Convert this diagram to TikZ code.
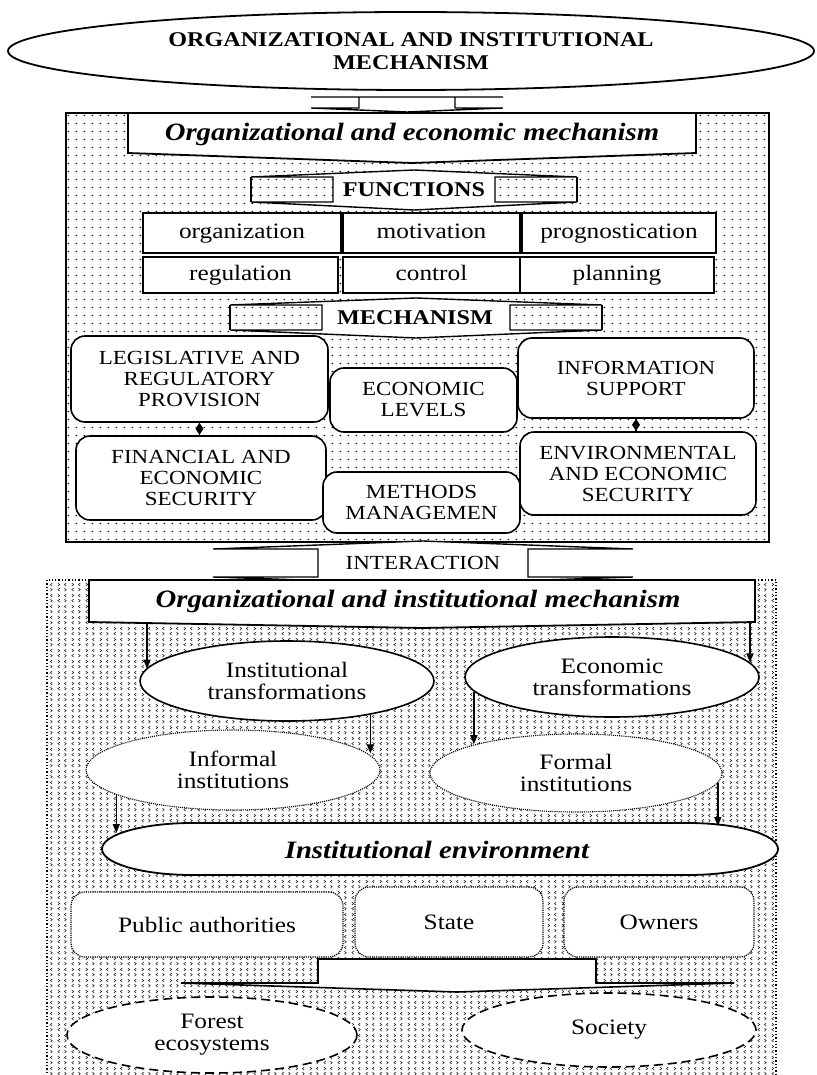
\documentclass[tikz,border=0pt]{standalone}
\usepackage{fontspec}
\setmainfont{Liberation Serif}[FakeStretch=1.15]
\usepackage{tikz}
\usetikzlibrary{arrows.meta,patterns,shapes.geometric}

% Text sizes
\newcommand{\txtsize}{\fontsize{20}{21}\selectfont}
\newcommand{\lcsize}{\fontsize{22}{22}\selectfont}
\newcommand{\hdsize}{\bfseries\fontsize{21}{23}\selectfont}
\newcommand{\ttlsize}{\bfseries\itshape\fontsize{25}{27}\selectfont}

% Fill of the upper frame
\pgfdeclarepatternformonly{smalldots}{\pgfqpoint{0pt}{0pt}}{\pgfqpoint{8.2pt}{7.5pt}}{\pgfqpoint{8.2pt}{7.5pt}}{%
  \pgfpathrectangle{\pgfqpoint{3pt}{3pt}}{\pgfqpoint{1.4pt}{1.4pt}}%
  \pgfusepath{fill}}

% Fill of the lower frame
\pgfdeclarepatternformonly{chevrons}{\pgfqpoint{0pt}{0pt}}{\pgfqpoint{14pt}{11pt}}{\pgfqpoint{14pt}{11pt}}{%
  \pgfsetlinewidth{0.5pt}%
  \pgfpathmoveto{\pgfqpoint{4pt}{1pt}}\pgfpathlineto{\pgfqpoint{2pt}{2.6pt}}\pgfpathlineto{\pgfqpoint{4pt}{4.2pt}}%
  \pgfpathmoveto{\pgfqpoint{9pt}{1pt}}\pgfpathlineto{\pgfqpoint{11pt}{2.6pt}}\pgfpathlineto{\pgfqpoint{9pt}{4.2pt}}%
  \pgfpathmoveto{\pgfqpoint{2pt}{6.5pt}}\pgfpathlineto{\pgfqpoint{4pt}{8.1pt}}\pgfpathlineto{\pgfqpoint{2pt}{9.7pt}}%
  \pgfpathmoveto{\pgfqpoint{11pt}{6.5pt}}\pgfpathlineto{\pgfqpoint{9pt}{8.1pt}}\pgfpathlineto{\pgfqpoint{11pt}{9.7pt}}%
  \pgfusepath{stroke}}

% Flat double arrow: centre x, outer half, shaft half, top, bottom, top tip, bottom tip
\newcommand{\flowband}[7]{%
  \draw[band] ({#1-#3},#4) -- ({#1-#2},#4) -- (#1,{#4-#6}) -- ({#1+#2},#4) -- ({#1+#3},#4)
    -- ({#1+#3},#5) -- ({#1+#2},#5) -- (#1,{#5+#7}) -- ({#1-#2},#5) -- ({#1-#3},#5) -- cycle;}

\begin{document}
\begin{tikzpicture}[x=1pt, y=-1pt,
    band/.style={line width=1.4pt, fill=white},
    fbox/.style={draw, line width=1.6pt, fill=white, inner sep=0pt, font=\lcsize,
      text height=15pt, text depth=5pt},
    rbox/.style={draw, line width=1.6pt, fill=white, inner sep=0pt, font=\txtsize,
      rounded corners=14pt, align=center},
    dbox/.style={draw, densely dotted, line width=1.2pt, fill=white, rounded corners=14pt,
      inner sep=0pt, font=\lcsize, align=center},
    oval/.style={ellipse, draw, fill=white, inner sep=0pt, font=\lcsize, align=center},
    arr/.style={-{Triangle[length=9pt,width=7pt]}, line width=1.5pt}]
    \useasboundingbox (0,0) rectangle (816,1075);

    % Frames
    \draw[line width=2pt, pattern=smalldots] (66,113) rectangle (769,542);
    \draw[dotted, line width=1.3pt, pattern=chevrons] (47,580) rectangle (776,1080);

    % Top
    \node[oval, line width=1.8pt, minimum width=806pt, minimum height=78pt, font=\hdsize] (oim) at (411,51)
        {ORGANIZATIONAL AND INSTITUTIONAL\\MECHANISM};
    \flowband{407}{96}{48}{97}{108}{0}{4}

    % Organizational and economic mechanism
    \draw[line width=1.8pt, fill=white] (128,113) -- (696,113) -- (696,153) -- (412,163) -- (128,153) -- cycle;
    \node[font=\ttlsize] (oem) at (412,134) {Organizational and economic mechanism};

    \flowband{414}{163}{81}{177}{202}{7}{8}
    \draw[line width=1.4pt] (251,177) -- (251,202) (577,177) -- (577,202);
    \node[font=\hdsize] (fun) at (414,190) {FUNCTIONS};

    % Functions
    \foreach \nm/\txt/\cx/\cy/\w/\h in {org/organization/242/233/198/40, mot/motivation/431.5/233/177/40,
        prg/prognostication/619/233/194/40, reg/regulation/240.5/275/195/36,
        ctl/control/431.5/275/177/36, pln/planning/617/275/194/36}
        \node[fbox, minimum width=\w pt, minimum height=\h pt] (\nm) at (\cx,\cy) {\txt};

    \flowband{416}{186}{94}{305}{330}{7}{8}
    \draw[line width=1.4pt] (230,305) -- (230,330) (602,305) -- (602,330);
    \node[font=\hdsize] (mec) at (415,318) {MECHANISM};

    % Mechanism blocks
    \node[rbox, minimum width=257pt, minimum height=86pt] (leg) at (199.5,379)
        {LEGISLATIVE AND\\REGULATORY\\PROVISION};
    \node[rbox, minimum width=236pt, minimum height=80pt] (inf) at (636,378) {INFORMATION\\SUPPORT};
    \node[rbox, minimum width=187pt, minimum height=64pt] (ecl) at (423.5,400) {ECONOMIC\\LEVELS};
    \node[rbox, minimum width=250pt, minimum height=84pt] (fin) at (201,478)
        {FINANCIAL AND\\ECONOMIC\\SECURITY};
    \node[rbox, minimum width=236pt, minimum height=83pt] (ees) at (638,473.5)
        {ENVIRONMENTAL\\AND ECONOMIC\\SECURITY};
    \node[rbox, minimum width=197pt, minimum height=61pt] (mth) at (421.5,502.5) {METHODS\\MANAGEMEN};

    \draw[{Diamond[length=12pt,width=8pt]}-, line width=1.3pt] (leg.south) -- (leg.south |- fin.north);
    \draw[{Diamond[length=12pt,width=8pt]}-, line width=1.3pt] (inf.south) -- (inf.south |- ees.north);

    % Interaction
    \flowband{423}{210}{105}{549}{577}{8}{7}
    \node[font=\txtsize] (int) at (423,563) {INTERACTION};

    % Organizational and institutional mechanism
    \draw[line width=1.8pt, fill=white] (89,580) -- (755,580) -- (755,622) -- (422,628) -- (89,622) -- cycle;
    \node[font=\ttlsize] (oin) at (418,601) {Organizational and institutional mechanism};
    \coordinate (oinl) at (147,623);
    \coordinate (oinr) at (750,622);

    % Transformations and institutions
    \node[oval, line width=1.6pt, minimum width=294pt, minimum height=80pt] (itr) at (287,681)
        {Institutional\\transformations};
    \node[oval, line width=1.6pt, minimum width=294pt, minimum height=80pt] (etr) at (612,677)
        {Economic\\transformations};
    \node[oval, densely dotted, line width=1.1pt, minimum width=294pt, minimum height=80pt] (ifi) at (233,770)
        {Informal\\institutions};
    \node[oval, densely dotted, line width=1.1pt, minimum width=292pt, minimum height=78pt] (foi) at (576,773)
        {Formal\\institutions};

    % Institutional environment
    \draw[line width=1.8pt, fill=white] (192,823) -- (688,823)
        arc[start angle=-90, end angle=90, x radius=90, y radius=26] -- (192,875)
        arc[start angle=90, end angle=270, x radius=90, y radius=26] -- cycle;
    \node[font=\ttlsize] (ien) at (437,850) {Institutional environment};
    \coordinate (ienl) at (119,833);
    \coordinate (ienr) at (718,826);

    \draw[arr] (oinl) -- (oinl |- itr.175);
    \draw[arr] (oinr) -- (oinr |- etr.6);
    \draw[arr] (itr.338) -- (itr.338 |- ifi.7);
    \draw[arr] (etr.186) -- (etr.186 |- foi.164);
    \draw[arr] (ifi.192) -- (ifi.192 |- ienl);
    \draw[arr] (foi.-4) -- (foi.-4 |- ienr);

    % Actors
    \node[dbox, minimum width=272pt, minimum height=65pt] (pub) at (207,924.5) {Public authorities};
    \node[dbox, minimum width=188pt, minimum height=70pt] (sta) at (449,922) {State};
    \node[dbox, minimum width=190pt, minimum height=70pt] (own) at (659,922) {Owners};

    \draw[line width=1.6pt, fill=white] (318,959) -- (596,959) -- (596,983) -- (734,983) -- (457,992)
        -- (181,983) -- (318,983) -- cycle;

    % Forest and society
    \node[oval, dash pattern=on 9pt off 5pt, line width=1.6pt, minimum width=290pt, minimum height=76pt] (for) at (212,1035)
        {Forest\\ecosystems};
    \node[oval, dash pattern=on 9pt off 5pt, line width=1.6pt, minimum width=294pt, minimum height=74pt] (soc) at (609,1030)
        {Society};
\end{tikzpicture}
\end{document}
